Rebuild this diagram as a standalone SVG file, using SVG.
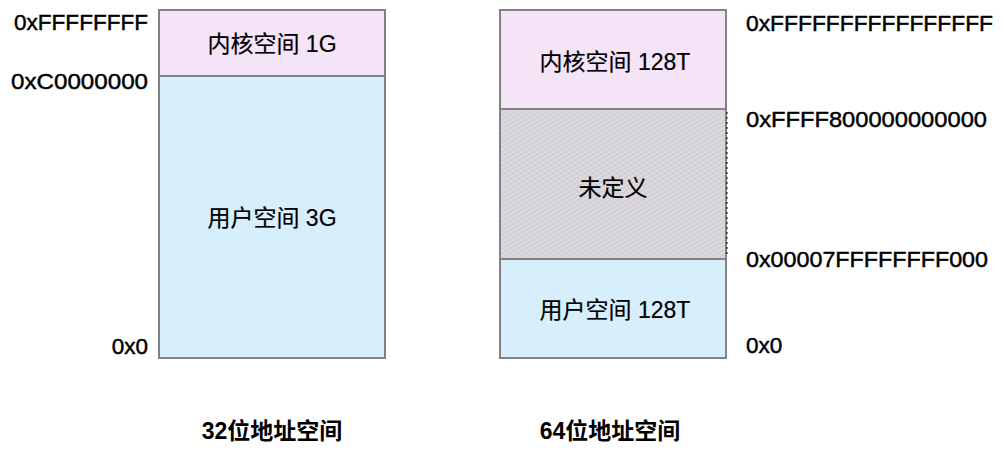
<svg xmlns="http://www.w3.org/2000/svg" width="1004" height="456" viewBox="0 0 1004 456">
<style>
.box{stroke:#828282;stroke-width:2}
.kern{fill:#F5E4F7}
.user{fill:#D7EEFC}
.lbl{font-family:"Liberation Sans","Noto Sans CJK SC",sans-serif;font-size:23px;fill:#000;stroke:#000;stroke-width:0.2;text-anchor:middle}
.addr{font-family:"Liberation Sans","Noto Sans CJK SC",sans-serif;font-size:22.5px;fill:#000;stroke:#000;stroke-width:0.45}
.end{text-anchor:end}
.title{font-family:"Liberation Sans","Noto Sans CJK SC",sans-serif;font-size:23px;font-weight:bold;fill:#000;text-anchor:middle}
</style>
<defs>
<pattern id="hatch" patternUnits="userSpaceOnUse" width="4" height="4" patternTransform="rotate(60)">
<rect width="4" height="4" fill="#D4D2D6"/>
<line x1="0" y1="0" x2="0" y2="4" stroke="#ECE6F0" stroke-width="1.2"/>
</pattern>
</defs>
<rect width="1004" height="456" fill="#fff"/>
<g id="space32">
<g id="k32"><rect class="box kern" x="159" y="10" width="226" height="66"/><text class="lbl" x="272" y="52">内核空间 1G</text></g>
<g id="u32"><rect class="box user" x="159" y="76" width="226" height="282"/><text class="lbl" x="272" y="226">用户空间 3G</text></g>
</g>
<g id="space64">
<g id="k64"><rect class="box kern" x="500" y="10" width="226" height="99"/><text class="lbl" x="615" y="70">内核空间 128T</text></g>
<g id="undef"><rect class="box" fill="url(#hatch)" x="500" y="109" width="226" height="150"/><line x1="727" y1="112" x2="727" y2="256" stroke="#000" stroke-width="1" stroke-dasharray="2,3"/><text class="lbl" x="613" y="196">未定义</text></g>
<g id="u64"><rect class="box user" x="500" y="259" width="226" height="99"/><text class="lbl" x="615" y="318">用户空间 128T</text></g>
</g>
<g id="addrs">
<text class="addr" x="14" y="30" textLength="134" lengthAdjust="spacingAndGlyphs">0xFFFFFFFF</text>
<text class="addr" x="11" y="89" textLength="137" lengthAdjust="spacingAndGlyphs">0xC0000000</text>
<text class="addr end" x="148" y="354">0x0</text>
<text class="addr" x="746" y="31" textLength="247" lengthAdjust="spacingAndGlyphs">0xFFFFFFFFFFFFFFFF</text>
<text class="addr" x="746" y="127" textLength="241" lengthAdjust="spacingAndGlyphs">0xFFFF800000000000</text>
<text class="addr" x="746" y="267" textLength="242" lengthAdjust="spacingAndGlyphs">0x00007FFFFFFFF000</text>
<text class="addr" x="746" y="353">0x0</text>
</g>
<g id="titles">
<text class="title" x="272" y="439">32位地址空间</text>
<text class="title" x="610" y="439">64位地址空间</text>
</g>
<g id="connectors"></g>
</svg>
